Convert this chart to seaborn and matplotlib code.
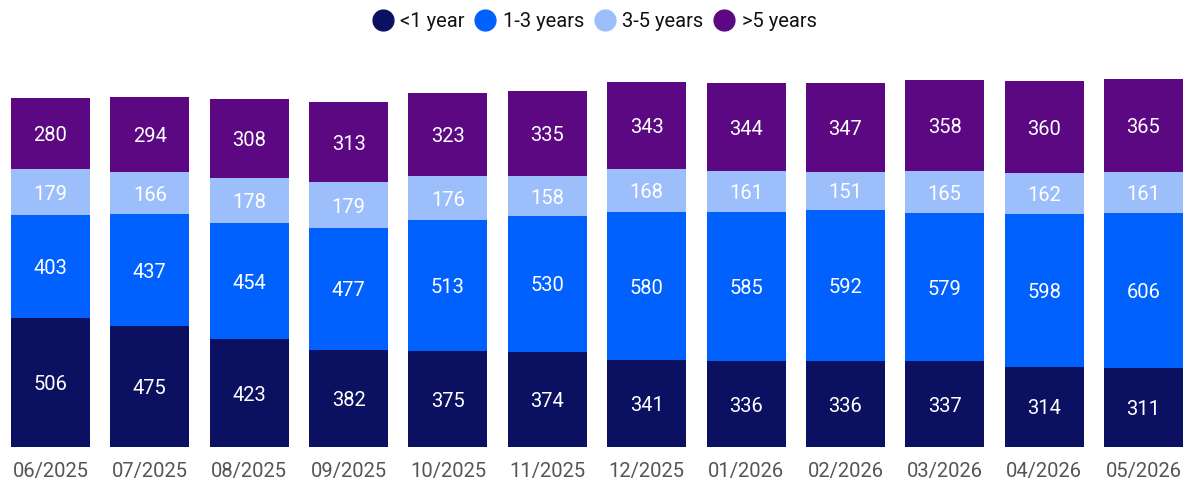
import matplotlib.pyplot as plt
import seaborn as sns
import numpy as np
from matplotlib.lines import Line2D

months = ['06/2025', '07/2025', '08/2025', '09/2025', '10/2025', '11/2025',
          '12/2025', '01/2026', '02/2026', '03/2026', '04/2026', '05/2026']
lt1 = [506, 475, 423, 382, 375, 374, 341, 336, 336, 337, 314, 311]
y1_3 = [403, 437, 454, 477, 513, 530, 580, 585, 592, 579, 598, 606]
y3_5 = [179, 166, 178, 179, 176, 158, 168, 161, 151, 165, 162, 161]
gt5 = [280, 294, 308, 313, 323, 335, 343, 344, 347, 358, 360, 365]

series = ['<1 year', '1-3 years', '3-5 years', '>5 years']
colors = ['#0B1160', '#0061FF', '#9CBFFC', '#5C0883']

sns.set_style("white")
plt.rcParams['font.family'] = ['Roboto', 'DejaVu Sans']

fig = plt.figure(figsize=(11.86, 4.82), dpi=100)
ax = fig.add_axes([0, 35 / 482, 1, 387 / 482])

values = np.array([lt1, y1_3, y3_5, gt5])
cum = values.cumsum(axis=0)

# draw cumulative totals from the top down so the stack shows through
for i in range(3, -1, -1):
    sns.barplot(x=months, y=cum[i], color=colors[i], saturation=1,
                width=0.795, ax=ax, order=months, linewidth=0, edgecolor='none')

for i in range(4):
    bottoms = cum[i] - values[i]
    for j in range(len(months)):
        ax.text(j, bottoms[j] + values[i][j] / 2, str(values[i][j]),
                ha='center', va='center_baseline', color='white', fontsize=14.5)

ax.set_xlim(-0.508, 11.428)
ax.set_ylim(0, 1517)
ax.set_yticks([])
ax.set_ylabel('')
ax.tick_params(axis='x', length=0, pad=11, labelsize=14.5, labelcolor='#555555')
for s in ax.spines.values():
    s.set_visible(False)

handles = [Line2D([], [], marker='o', linestyle='', markersize=15,
                  markerfacecolor=c, markeredgecolor=c) for c in colors]
fig.legend(handles, series, loc='center', bbox_to_anchor=(0.5, 0.956), ncol=4,
           frameon=False, fontsize=14.5, handletextpad=0.2, columnspacing=0.4,
           handlelength=1.3, labelcolor='#111111')

plt.savefig('out.png', dpi=100)
